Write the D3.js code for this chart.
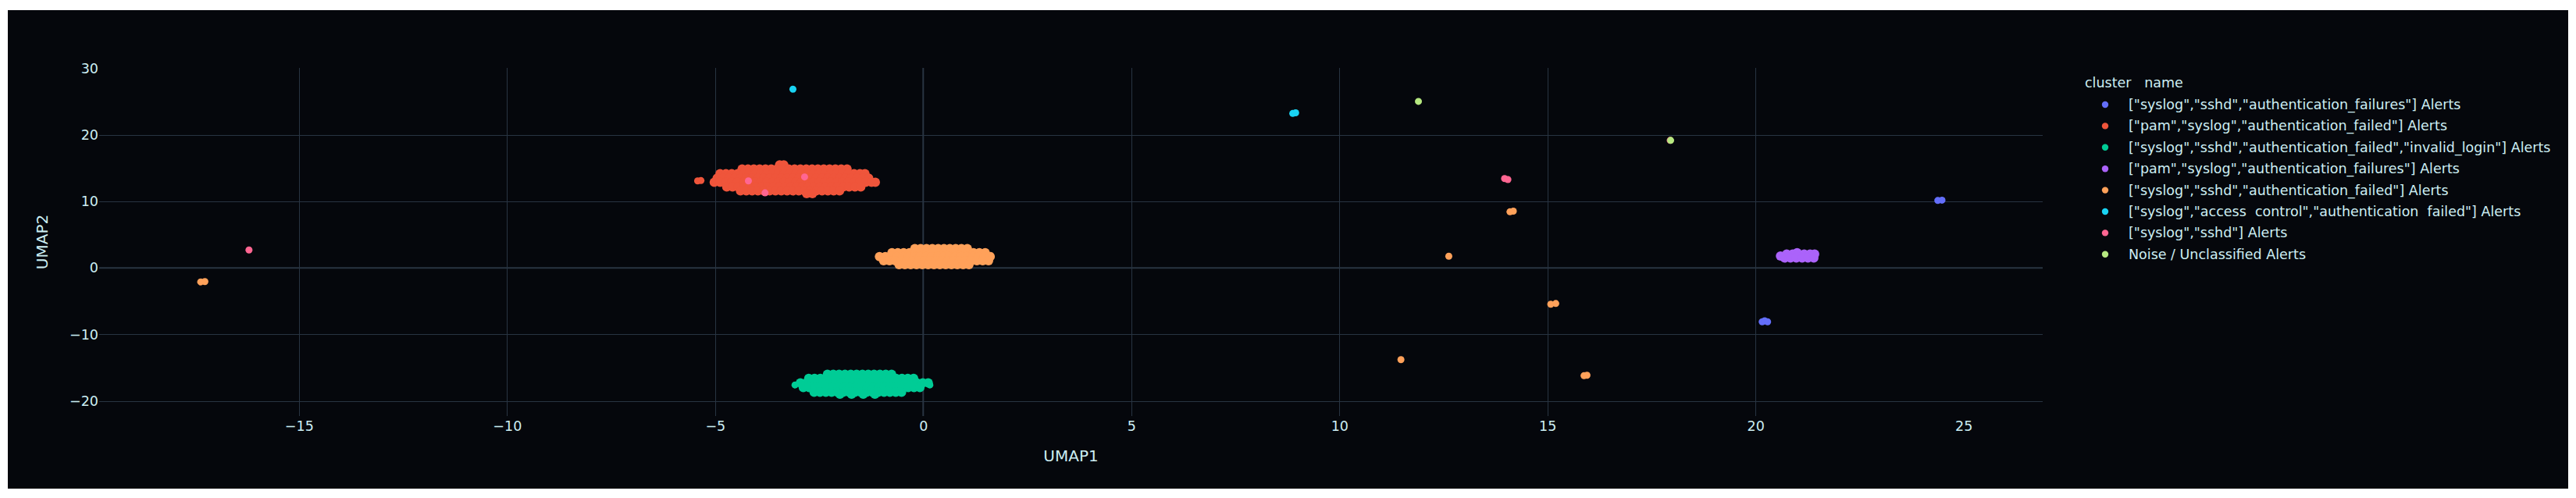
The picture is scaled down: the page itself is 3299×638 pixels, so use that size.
<!DOCTYPE html>
<html>
<head>
<meta charset="utf-8">
<script src="https://cdn.jsdelivr.net/npm/d3@7"></script>
<style>
  body { margin: 0; background: #ffffff; }
  svg { display: block; }
  text { font-family: "DejaVu Sans", Verdana, sans-serif; white-space: pre; }
</style>
</head>
<body>
<svg id="chart" width="3299" height="638"></svg>
<script>
// ---------------- DATA ----------------
const clusterNames = [
  '["syslog","sshd","authentication_failures"] Alerts',
  '["pam","syslog","authentication_failed"] Alerts',
  '["syslog","sshd","authentication_failed","invalid_login"] Alerts',
  '["pam","syslog","authentication_failures"] Alerts',
  '["syslog","sshd","authentication_failed"] Alerts',
  '["syslog","access  control","authentication  failed"] Alerts',
  '["syslog","sshd"] Alerts',
  'Noise / Unclassified Alerts'
];
const clusterColors = ["#636efa", "#EF553B", "#00cc96", "#ab63fa", "#FFA15A", "#19d3f3", "#FF6692", "#B6E880"];
const legendTitle = "cluster   name";
const xTicks = [-15, -10, -5, 0, 5, 10, 15, 20, 25];
const yTicks = [-20, -10, 0, 10, 20, 30];
const xTitle = "UMAP1";
const yTitle = "UMAP2";

// cluster 0 : syslog / sshd / authentication_failures
const pointsSshdFailures = [[24.38, 10.15], [24.48, 10.2], [20.16, -8.1], [20.29, -8.1], [20.22, -7.95]];

// cluster 1 : pam / syslog / authentication_failed  (rows of the big blob)
const rowsPamFailed = [
  { y: 15.5, x: [-3.45, -3.35] },
  { y: 14.9, x: [-4.35, -4.21, -4.07, -3.93, -3.79, -3.65, -3.51, -3.37, -3.23, -3.09, -2.95, -2.81, -2.67, -2.53, -2.39, -2.25, -2.11, -1.97, -1.83] },
  { y: 14.2, x: [-4.88, -4.74, -4.60, -4.46, -4.32, -4.18, -4.04, -3.90, -3.76, -3.62, -3.48, -3.34, -3.20, -3.06, -2.92, -2.78, -2.64, -2.50, -2.36, -2.22, -2.08, -1.94, -1.80, -1.66, -1.52, -1.40] },
  { y: 13.5, x: [-4.95, -4.81, -4.67, -4.53, -4.39, -4.25, -4.11, -3.97, -3.83, -3.69, -3.55, -3.41, -3.27, -3.13, -2.99, -2.85, -2.71, -2.57, -2.43, -2.29, -2.15, -2.01, -1.87, -1.73, -1.59, -1.45, -1.31] },
  { y: 12.9, x: [-5.02, -4.88, -4.74, -4.60, -4.46, -4.32, -4.18, -4.04, -3.90, -3.76, -3.62, -3.48, -3.34, -3.20, -3.06, -2.92, -2.78, -2.64, -2.50, -2.36, -2.22, -2.08, -1.94, -1.80, -1.66, -1.52, -1.38, -1.24, -1.15] },
  { y: 12.2, x: [-4.72, -4.58, -4.44, -4.30, -4.16, -4.02, -3.88, -3.74, -3.60, -3.46, -3.32, -3.18, -3.04, -2.90, -2.76, -2.62, -2.48, -2.34, -2.20, -2.06, -1.92, -1.78, -1.64, -1.50] },
  { y: 11.6, x: [-4.39, -4.25, -4.11, -3.97, -3.83, -3.69, -3.55, -3.41, -3.27, -3.13, -2.99, -2.85, -2.71, -2.57, -2.43, -2.29, -2.15, -2.01] },
  { y: 11.2, x: [-2.80, -2.66] }
];
const pointsPamFailedExtra = [[-5.42, 13.1], [-5.34, 13.15]];

// cluster 2 : syslog / sshd / authentication_failed / invalid_login
const rowsInvalidLogin = [
  { y: -16.0, x: [-2.30, -2.16, -2.02, -1.88, -1.74, -1.60, -1.46, -1.32, -1.18, -1.04, -0.90, -0.76] },
  { y: -16.6, x: [-2.75, -2.61, -2.47, -2.33, -2.19, -2.05, -1.91, -1.77, -1.63, -1.49, -1.35, -1.21, -1.07, -0.93, -0.79, -0.65, -0.51, -0.37, -0.23] },
  { y: -17.3, x: [-2.95, -2.81, -2.67, -2.53, -2.39, -2.25, -2.11, -1.97, -1.83, -1.69, -1.55, -1.41, -1.27, -1.13, -0.99, -0.85, -0.71, -0.57, -0.43, -0.29, -0.15, -0.01, 0.12] },
  { y: -18.0, x: [-2.88, -2.74, -2.60, -2.46, -2.32, -2.18, -2.04, -1.90, -1.76, -1.62, -1.48, -1.34, -1.20, -1.06, -0.92, -0.78, -0.64, -0.50, -0.36, -0.22, -0.08] },
  { y: -18.7, x: [-2.62, -2.48, -2.34, -2.20, -2.06, -1.92, -1.78, -1.64, -1.50, -1.36, -1.22, -1.08, -0.94, -0.80, -0.66, -0.52] },
  { y: -19.0, x: [-2.00, -1.72, -1.44, -1.16] }
];
const pointsInvalidLoginExtra = [[-3.08, -17.6], [0.16, -17.6]];

// cluster 3 : pam / syslog / authentication_failures
const rowsPamFailures = [
  { y: 2.3, x: [21.0] },
  { y: 2.1, x: [20.75, 20.89, 21.03, 21.17, 21.31, 21.42] },
  { y: 1.5, x: [20.70, 20.84, 20.98, 21.12, 21.26, 21.40] },
  { y: 1.8, x: [20.6] }
];

// cluster 4 : syslog / sshd / authentication_failed
const rowsSshdFailed = [
  { y: 2.9, x: [-0.20, -0.06, 0.08, 0.22, 0.36, 0.50, 0.64, 0.78, 0.92, 1.06] },
  { y: 2.3, x: [-0.75, -0.61, -0.47, -0.33, -0.19, -0.05, 0.09, 0.23, 0.37, 0.51, 0.65, 0.79, 0.93, 1.07, 1.21, 1.35, 1.49] },
  { y: 1.7, x: [-1.05, -0.91, -0.77, -0.63, -0.49, -0.35, -0.21, -0.07, 0.07, 0.21, 0.35, 0.49, 0.63, 0.77, 0.91, 1.05, 1.19, 1.33, 1.47, 1.61] },
  { y: 1.1, x: [-0.95, -0.81, -0.67, -0.53, -0.39, -0.25, -0.11, 0.03, 0.17, 0.31, 0.45, 0.59, 0.73, 0.87, 1.01, 1.15, 1.29, 1.43, 1.57] },
  { y: 0.5, x: [-0.58, -0.44, -0.30, -0.16, -0.02, 0.12, 0.26, 0.40, 0.54, 0.68, 0.82, 0.96, 1.10] }
];
const pointsSshdFailedExtra = [
  [-17.36, -2.1], [-17.26, -2.05], [14.1, 8.45], [14.18, 8.55], [12.63, 1.76],
  [15.08, -5.45], [15.2, -5.35], [11.48, -13.8], [15.88, -16.2], [15.95, -16.15]
];

// cluster 5 : syslog / access_control / authentication_failed
const pointsAccessControl = [[-3.13, 26.9], [8.88, 23.25], [8.95, 23.35]];

// cluster 6 : syslog / sshd
const pointsSyslogSshd = [[-16.2, 2.7], [-4.2, 13.1], [-2.85, 13.7], [-3.8, 11.3], [13.97, 13.45], [14.05, 13.3], [17.95, 19.2]];

// cluster 7 : noise
const pointsNoise = [[11.9, 25.06], [17.96, 19.2]];

// ---------------- BUILD ----------------
const fromRows = rows => rows.flatMap(r => r.x.map(x => [x, r.y]));
// dense blob points (drawn slightly larger so the blobs read as solid) and loose points
const clusterDense = [[], fromRows(rowsPamFailed), fromRows(rowsInvalidLogin), fromRows(rowsPamFailures), fromRows(rowsSshdFailed), [], [], []];
const clusterLoose = [pointsSshdFailures, pointsPamFailedExtra, pointsInvalidLoginExtra, [], pointsSshdFailedExtra, pointsAccessControl, pointsSyslogSshd, pointsNoise];

const plot = { left: 127, right: 2616, top: 87, bottom: 533 };
const textColor = "#cdeef3";
const gridColor = "#283442";
const bg = "#05070c";

const svg = d3.select("#chart");
svg.append("rect").attr("x", 10).attr("y", 13).attr("width", 3279).attr("height", 613).attr("fill", bg);

const x = d3.scaleLinear().domain([-19.80, 26.90]).range([plot.left, plot.right]);
const y = d3.scaleLinear().domain([-22.28, 30.10]).range([plot.bottom, plot.top]);

// grid
const grid = svg.append("g");
grid.selectAll("line.gx").data(xTicks.filter(t => t !== 0 && x(t) < plot.right - 110))
  .join("line").attr("class", "gx")
  .attr("x1", d => Math.round(x(d)) + 0.5).attr("x2", d => Math.round(x(d)) + 0.5)
  .attr("y1", plot.top).attr("y2", plot.bottom)
  .attr("stroke", gridColor).attr("stroke-width", 1);
grid.selectAll("line.gy").data(yTicks.filter(t => t !== 0 && y(t) > plot.top + 2))
  .join("line").attr("class", "gy")
  .attr("x1", plot.left).attr("x2", plot.right)
  .attr("y1", d => Math.round(y(d)) + 0.5).attr("y2", d => Math.round(y(d)) + 0.5)
  .attr("stroke", gridColor).attr("stroke-width", 1);
// zero lines
grid.append("line").attr("x1", x(0)).attr("x2", x(0)).attr("y1", plot.top).attr("y2", plot.bottom)
  .attr("stroke", gridColor).attr("stroke-width", 2);
grid.append("line").attr("x1", plot.left).attr("x2", plot.right).attr("y1", y(0)).attr("y2", y(0))
  .attr("stroke", gridColor).attr("stroke-width", 2);

// axes (labels only)
const xAxis = svg.append("g").attr("transform", `translate(0,${plot.bottom})`)
  .call(d3.axisBottom(x).tickValues(xTicks).tickSize(0).tickPadding(7));
const yAxis = svg.append("g").attr("transform", `translate(${plot.left},0)`)
  .call(d3.axisLeft(y).tickValues(yTicks).tickSize(0).tickPadding(1));
[xAxis, yAxis].forEach(a => {
  a.select(".domain").remove();
  a.selectAll("text").attr("fill", textColor).style("font-size", "17.5px")
    .style("font-family", '"DejaVu Sans", Verdana, sans-serif');
});

// axis titles
svg.append("text").attr("x", (plot.left + plot.right) / 2).attr("y", 584)
  .attr("text-anchor", "middle").attr("dominant-baseline", "central")
  .attr("fill", textColor).style("font-size", "20px").text(xTitle);
svg.append("text").attr("transform", `translate(54,${(plot.top + plot.bottom) / 2}) rotate(-90)`)
  .attr("text-anchor", "middle").attr("dominant-baseline", "central")
  .attr("fill", textColor).style("font-size", "20px").text(yTitle);

// points
const marks = svg.append("g");
clusterColors.forEach((color, i) => {
  const g = marks.append("g");
  g.selectAll("circle.dense").data(clusterDense[i]).join("circle").attr("class", "dense")
    .attr("cx", d => x(d[0])).attr("cy", d => y(d[1]))
    .attr("r", 6).attr("fill", color);
  g.selectAll("circle.loose").data(clusterLoose[i]).join("circle").attr("class", "loose")
    .attr("cx", d => x(d[0])).attr("cy", d => y(d[1]))
    .attr("r", 4.5).attr("fill", color);
});

// legend
const legend = svg.append("g");
legend.append("text").attr("x", 2670).attr("y", 106).attr("dominant-baseline", "central")
  .attr("fill", textColor).style("font-size", "17.5px").text(legendTitle);
const items = legend.selectAll("g.item").data(clusterNames).join("g").attr("class", "item")
  .attr("transform", (d, i) => `translate(0,${134 + i * 27.4})`);
items.append("circle").attr("cx", 2696).attr("cy", 0).attr("r", 4.2)
  .attr("fill", (d, i) => clusterColors[i]);
items.append("text").attr("x", 2726).attr("y", 0).attr("dominant-baseline", "central")
  .attr("fill", textColor).style("font-size", "17.5px").text(d => d);
</script>
</body>
</html>
